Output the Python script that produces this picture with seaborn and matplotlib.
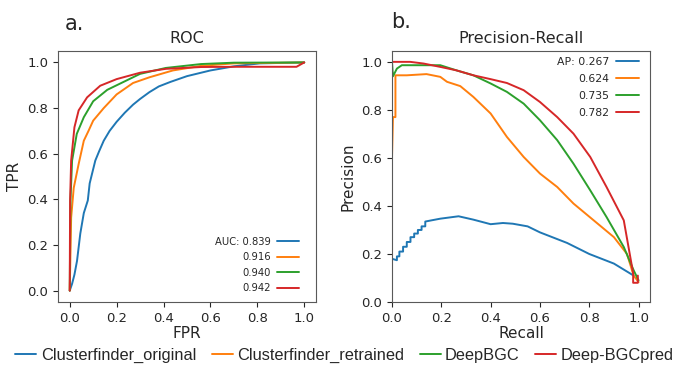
import numpy as np
import pandas as pd
import matplotlib
matplotlib.use("Agg")
import matplotlib.pyplot as plt
import seaborn as sns
from matplotlib.lines import Line2D

sns.set_style("ticks")
plt.rcParams["font.family"] = ["DejaVu Sans"]

METHODS = ["Clusterfinder_original", "Clusterfinder_retrained", "DeepBGC", "Deep-BGCpred"]
COLORS = ["#1f77b4", "#ff7f0e", "#2ca02c", "#d62728"]
AUC = ["0.839", "0.916", "0.940", "0.942"]
AP = ["0.267", "0.624", "0.735", "0.782"]

# ROC curves (FPR, TPR)
roc_fpr = [
    [0, 0.01, 0.02, 0.031, 0.045, 0.06, 0.077, 0.085, 0.097, 0.109, 0.125, 0.145, 0.17, 0.2, 0.235, 0.27,
     0.3, 0.34, 0.38, 0.43, 0.5, 0.6, 0.7, 0.81, 1.0],
    [0, 0.006, 0.017, 0.038, 0.06, 0.08, 0.1, 0.145, 0.2, 0.27, 0.34, 0.44, 0.56, 0.7, 1.0],
    [0, 0.003, 0.01, 0.03, 0.06, 0.1, 0.16, 0.22, 0.3, 0.41, 0.56, 0.7, 1.0],
    [0, 0.0015, 0.006, 0.02, 0.038, 0.074, 0.13, 0.2, 0.3, 0.41, 0.56, 0.7, 0.967, 1.0],
]
roc_tpr = [
    [0, 0.03, 0.07, 0.13, 0.25, 0.34, 0.395, 0.47, 0.52, 0.57, 0.61, 0.657, 0.7, 0.74, 0.78, 0.815,
     0.84, 0.87, 0.895, 0.915, 0.94, 0.965, 0.983, 0.996, 1.0],
    [0, 0.32, 0.45, 0.555, 0.657, 0.7, 0.745, 0.80, 0.86, 0.91, 0.935, 0.965, 0.985, 0.996, 1.0],
    [0, 0.395, 0.57, 0.687, 0.76, 0.83, 0.88, 0.91, 0.95, 0.976, 0.993, 0.999, 1.0],
    [0, 0.395, 0.57, 0.716, 0.79, 0.847, 0.898, 0.927, 0.955, 0.972, 0.98, 0.981, 0.981, 1.0],
]

# Precision-recall curves (recall, precision)
pr_recall = [
    [0, 0, 0.02, 0.02, 0.03, 0.03, 0.045, 0.045, 0.06, 0.06, 0.075, 0.075, 0.09, 0.09, 0.105, 0.105,
     0.12, 0.12, 0.135, 0.135, 0.16, 0.196, 0.27, 0.33, 0.4, 0.45, 0.49, 0.55, 0.6, 0.71, 0.8, 0.9, 0.98],
    [0, 0.004, 0.014, 0.014, 0.06, 0.14, 0.196, 0.223, 0.277, 0.33, 0.4, 0.466, 0.534, 0.6, 0.67, 0.736,
     0.818, 0.9, 0.953, 0.98, 1.0],
    [0, 0.004, 0.02, 0.04, 0.128, 0.196, 0.26, 0.33, 0.4, 0.466, 0.534, 0.6, 0.67, 0.736, 0.804, 0.87,
     0.94, 0.98, 1.0],
    [0, 0.074, 0.128, 0.196, 0.26, 0.33, 0.4, 0.466, 0.534, 0.6, 0.67, 0.736, 0.804, 0.87, 0.94, 0.978,
     0.978, 0.997, 0.997],
]
pr_precision = [
    [0.6, 0.18, 0.174, 0.19, 0.19, 0.21, 0.21, 0.23, 0.23, 0.25, 0.25, 0.27, 0.27, 0.285, 0.285, 0.3,
     0.3, 0.315, 0.315, 0.335, 0.34, 0.347, 0.357, 0.343, 0.324, 0.329, 0.326, 0.315, 0.29, 0.246, 0.2, 0.16, 0.11],
    [0.6, 0.77, 0.77, 0.944, 0.944, 0.949, 0.9375, 0.917, 0.899, 0.854, 0.785, 0.6875, 0.604, 0.535, 0.479,
     0.41, 0.34, 0.27, 0.2, 0.11, 0.083],
    [1.0, 0.94, 0.972, 0.986, 0.986, 0.986, 0.965, 0.944, 0.91, 0.875, 0.826, 0.757, 0.674, 0.576, 0.465,
     0.354, 0.229, 0.132, 0.09],
    [1.0, 1.0, 0.993, 0.979, 0.965, 0.944, 0.928, 0.912, 0.882, 0.833, 0.77, 0.701, 0.604, 0.479, 0.34,
     0.12, 0.08, 0.08, 0.11],
]


def long_frame(xs, ys):
    rows = []
    for m, x, y in zip(METHODS, xs, ys):
        for i, (a, b) in enumerate(zip(x, y)):
            rows.append({"method": m, "order": i, "x": a, "y": b})
    return pd.DataFrame(rows)


roc_df = long_frame(roc_fpr, roc_tpr)
pr_df = long_frame(pr_recall, pr_precision)
palette = dict(zip(METHODS, COLORS))

fig = plt.figure(figsize=(6.77, 3.74), dpi=100)
ax1 = fig.add_axes([0.0857, 0.1925, 0.381, 0.671])
ax2 = fig.add_axes([0.579, 0.1925, 0.381, 0.671])

for ax, df in [(ax1, roc_df), (ax2, pr_df)]:
    sns.lineplot(data=df, x="x", y="y", hue="method", palette=palette, sort=False,
                 estimator=None, units="method", lw=1.4, ax=ax, legend=False)
    ax.tick_params(labelsize=9.5, colors=".15")
    for s in ax.spines.values():
        s.set_color(".35")

ax1.set_xlim(-0.05, 1.05)
ax1.set_ylim(-0.05, 1.05)
ax2.set_xlim(0, 1.046)
ax2.set_ylim(0, 1.045)
for ax in (ax1, ax2):
    ax.set_xticks(np.arange(0, 1.01, 0.2))
    ax.set_yticks(np.arange(0, 1.01, 0.2))

ax1.set_title("ROC", fontsize=11.5)
ax1.set_xlabel("FPR", fontsize=11, labelpad=1)
ax1.set_ylabel("TPR", fontsize=11)
ax2.set_title("Precision-Recall", fontsize=11.5)
ax2.set_xlabel("Recall", fontsize=11, labelpad=1)
ax2.set_ylabel("Precision", fontsize=11)

fig.text(0.095, 0.92, "a.", fontsize=15)
fig.text(0.578, 0.925, "b.", fontsize=15)

# inner score legends
h = [Line2D([], [], color=c, lw=1.4) for c in COLORS]
ax1.legend(h, ["AUC: " + AUC[0]] + AUC[1:], loc="lower right", markerfirst=False,
           frameon=False, fontsize=7.2, handlelength=2.2, handletextpad=0.6, labelspacing=0.55,
           bbox_to_anchor=(0.97, 0.0))
ax2.legend(h, ["AP: " + AP[0]] + AP[1:], loc="upper right", markerfirst=False,
           frameon=False, fontsize=7.8, handlelength=2.1, handletextpad=0.6, labelspacing=0.65,
           bbox_to_anchor=(0.995, 1.015))

fig.legend(h, METHODS, loc="lower center", ncol=4, frameon=False,
           bbox_to_anchor=(0.509, -0.01), handlelength=1.27, columnspacing=0.95,
           handletextpad=0.28, prop={"family": "Liberation Sans", "size": 11.8})

fig.savefig("out.png", dpi=100)
